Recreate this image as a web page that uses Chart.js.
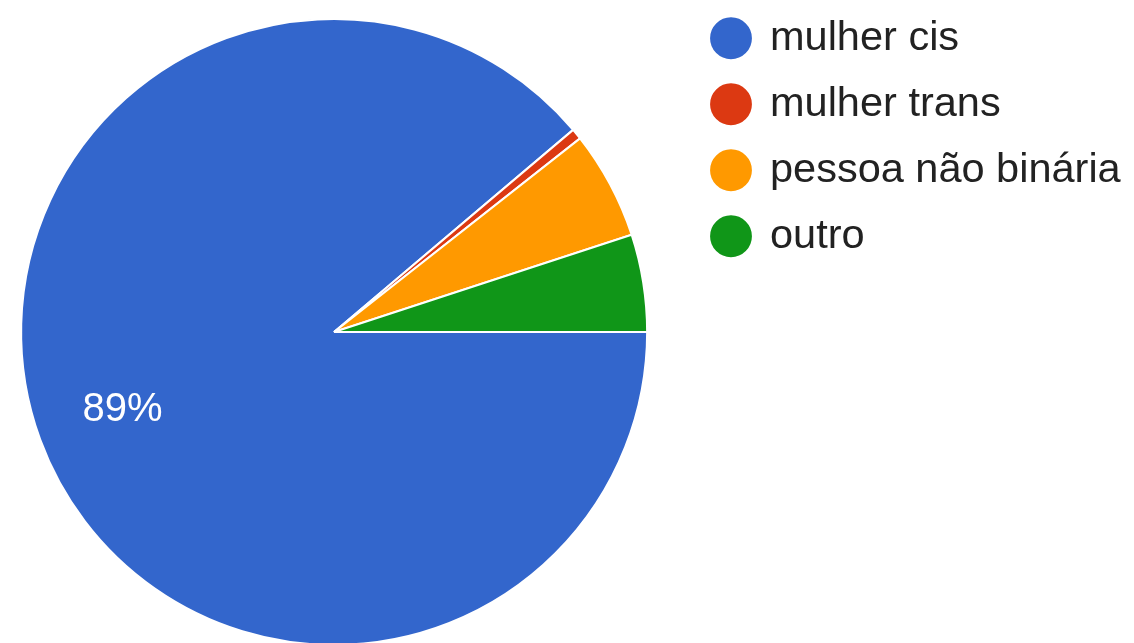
<!DOCTYPE html>
<html>
<head>
<meta charset="utf-8">
<script src="https://cdn.jsdelivr.net/npm/chart.js@4/dist/chart.umd.min.js"></script>
<style>
  html, body { margin: 0; padding: 0; background: #ffffff; overflow: hidden; width: 1134px; height: 643px; }
  #grafico { display: block; position: absolute; left: -20px; top: -7px; }
</style>
</head>
<body>
<canvas id="grafico" width="1154" height="678"></canvas>
<script>
// Respostas por identidade de gênero
const categorias = ['mulher cis', 'mulher trans', 'pessoa não binária', 'outro'];
const respostas = [159, 1, 10, 9];
const cores = ['#3366cc', '#dc3912', '#ff9900', '#109618'];

const FAMILIA = '"Liberation Sans", Arial, sans-serif';
const tamLegenda = 41.5;
const espacoLegenda = 24.5;
const larguraCaixa = 36.5;
const inicioLegenda = 708.25;
const larguraCanvas = 1154;

// largura natural da legenda, para fixar onde ela começa
const medidor = document.createElement('canvas').getContext('2d');
medidor.font = tamLegenda + 'px ' + FAMILIA;
const maiorTexto = Math.max(...categorias.map(t => medidor.measureText(t).width));
const larguraLegenda = espacoLegenda + larguraCaixa + tamLegenda / 2 + maiorTexto + 10;
const margemDireita = Math.max(0, larguraCanvas - inicioLegenda - larguraLegenda);

// rótulo de porcentagem dentro das fatias grandes
const rotulos = {
  id: 'rotulos',
  afterDatasetsDraw(chart) {
    const meta = chart.getDatasetMeta(0);
    const total = respostas.reduce((a, b) => a + b, 0);
    const ctx = chart.ctx;
    meta.data.forEach((arco, i) => {
      const pct = respostas[i] / total * 100;
      if (pct < 8) return;
      const p = arco.getProps(['x', 'y', 'startAngle', 'endAngle', 'outerRadius'], true);
      const meio = (p.startAngle + p.endAngle) / 2;
      const r = p.outerRadius * 0.72;
      ctx.save();
      ctx.fillStyle = '#ffffff';
      ctx.font = '40px ' + FAMILIA;
      ctx.textAlign = 'center';
      ctx.textBaseline = 'middle';
      ctx.fillText(Math.round(pct) + '%', p.x + Math.cos(meio) * r, p.y + Math.sin(meio) * r);
      ctx.restore();
    });
  }
};

new Chart(document.getElementById('grafico'), {
  type: 'pie',
  data: {
    labels: categorias,
    datasets: [{
      data: respostas,
      backgroundColor: cores,
      borderColor: '#ffffff',
      borderWidth: 2,
      radius: 313
    }]
  },
  options: {
    responsive: false,
    animation: false,
    rotation: 90,
    layout: {
      padding: { left: 0, top: 0, right: margemDireita, bottom: 0 }
    },
    events: [],
    plugins: {
      tooltip: { enabled: false },
      legend: {
        position: 'right',
        align: 'start',
        labels: {
          usePointStyle: true,
          pointStyle: 'circle',
          boxWidth: larguraCaixa,
          boxHeight: 31,
          padding: espacoLegenda,
          color: '#222222',
          font: { family: FAMILIA, size: tamLegenda }
        }
      }
    }
  },
  plugins: [rotulos]
});
</script>
</body>
</html>
